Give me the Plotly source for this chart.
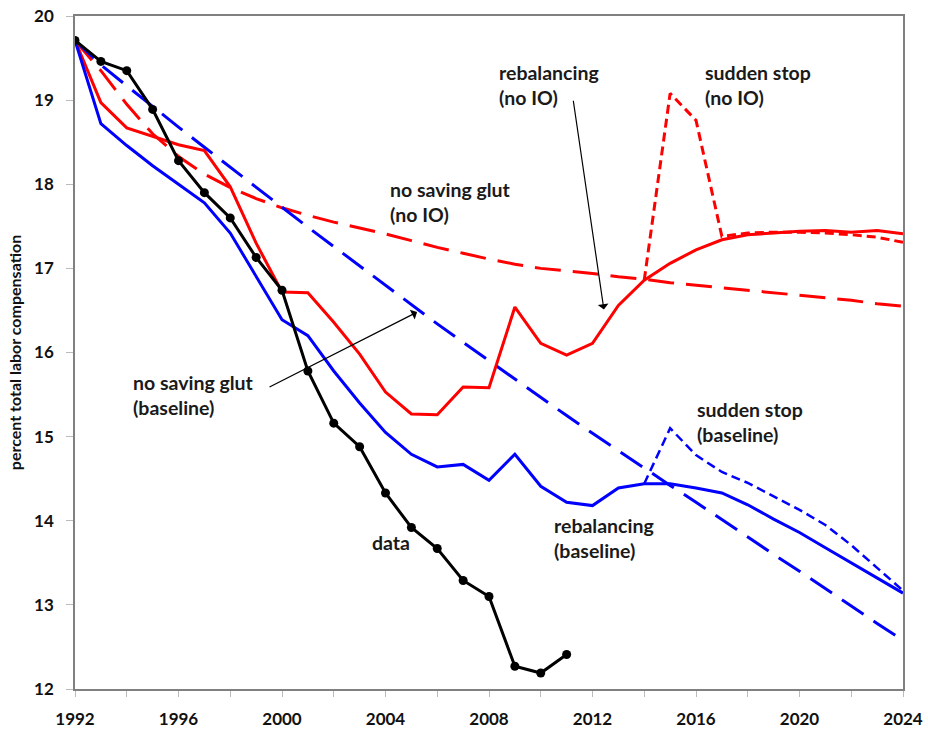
import plotly.graph_objects as go

years = list(range(1992, 2025))
data_years = list(range(1992, 2012))
stop_years = list(range(2014, 2025))

# measured data (black)
data_share = [19.71, 19.46, 19.35, 18.89, 18.28, 17.90, 17.60, 17.13, 16.74, 15.78,
              15.16, 14.88, 14.33, 13.92, 13.67, 13.29, 13.10, 12.27, 12.19, 12.41]

# rebalancing (baseline), blue solid
rebal_base = [19.71, 18.72, 18.46, 18.22, 18.00, 17.78, 17.42, 16.90, 16.39, 16.20,
              15.78, 15.40, 15.05, 14.79, 14.64, 14.67, 14.48, 14.79, 14.41, 14.22,
              14.18, 14.39, 14.44, 14.44, 14.39, 14.33, 14.19, 14.02, 13.86, 13.68,
              13.50, 13.33, 13.14]

# no saving glut (baseline), blue long dash
glut_base = [19.71, 19.42, 19.17, 18.92, 18.68, 18.44, 18.20, 17.96, 17.72, 17.49,
             17.26, 17.03, 16.80, 16.56, 16.34, 16.12, 15.90, 15.68, 15.46, 15.25,
             15.04, 14.83, 14.63, 14.42, 14.22, 14.01, 13.81, 13.60, 13.40, 13.19,
             12.99, 12.78, 12.58]

# sudden stop (baseline), blue short dash, 2014-2024
stop_base = [14.44, 15.10, 14.78, 14.58, 14.45, 14.29, 14.13, 13.95, 13.71, 13.44, 13.17]

# rebalancing (no IO), red solid
rebal_noio = [19.71, 18.97, 18.67, 18.57, 18.47, 18.40, 17.97, 17.30, 16.72, 16.71,
              16.36, 15.98, 15.53, 15.27, 15.26, 15.59, 15.58, 16.54, 16.11, 15.97,
              16.11, 16.56, 16.86, 17.06, 17.22, 17.34, 17.40, 17.42, 17.44, 17.45,
              17.43, 17.45, 17.41]

# no saving glut (no IO), red long dash
glut_noio = [19.71, 19.35, 18.95, 18.60, 18.33, 18.12, 17.96, 17.83, 17.72, 17.63,
             17.55, 17.48, 17.41, 17.33, 17.25, 17.18, 17.11, 17.05, 17.00, 16.97,
             16.94, 16.90, 16.87, 16.83, 16.80, 16.77, 16.74, 16.71, 16.68, 16.65,
             16.62, 16.58, 16.55]

# sudden stop (no IO), red short dash, 2014-2024
stop_noio = [16.86, 19.08, 18.76, 17.38, 17.42, 17.43, 17.43, 17.42, 17.40, 17.37, 17.31]

RED = '#FF0000'
BLUE = '#0000FF'
FONT = 'Lato'
LONG = '26px,12px'
SHORT = '9px,5px'

fig = go.Figure()

fig.add_trace(go.Scatter(x=years, y=glut_noio, mode='lines',
                         line=dict(color=RED, width=3, dash=LONG)))
fig.add_trace(go.Scatter(x=years, y=glut_base, mode='lines',
                         line=dict(color=BLUE, width=3, dash=LONG)))
fig.add_trace(go.Scatter(x=stop_years, y=stop_noio, mode='lines',
                         line=dict(color=RED, width=3, dash=SHORT)))
fig.add_trace(go.Scatter(x=stop_years, y=stop_base, mode='lines',
                         line=dict(color=BLUE, width=2.5, dash=SHORT)))
fig.add_trace(go.Scatter(x=years, y=rebal_noio, mode='lines',
                         line=dict(color=RED, width=3)))
fig.add_trace(go.Scatter(x=years, y=rebal_base, mode='lines',
                         line=dict(color=BLUE, width=3)))
fig.add_trace(go.Scatter(x=data_years, y=data_share, mode='lines+markers',
                         line=dict(color='black', width=3),
                         marker=dict(color='black', size=9)))

# text labels (left aligned, vertically centred)
labels = [
    (2008.31, 19.18, 'rebalancing<br>(no IO)'),
    (2016.27, 19.18, 'sudden stop<br>(no IO)'),
    (2004.10, 17.79, 'no saving glut<br>(no IO)'),
    (1994.16, 15.49, 'no saving glut<br>(baseline)'),
    (2003.40, 13.74, 'data'),
    (2010.43, 13.80, 'rebalancing<br>(baseline)'),
    (2015.96, 15.17, 'sudden stop<br>(baseline)'),
]
for lx, ly, txt in labels:
    fig.add_annotation(x=lx, y=ly, text=txt, showarrow=False,
                       xanchor='left', yanchor='middle', align='left',
                       font=dict(family=FONT, size=19.5, color='#1a1a1a', weight='bold'))

# pointer arrows
arrows = [
    ((1999.46, 15.58), (2005.22, 16.48)),
    ((2011.25, 19.01), (2012.44, 16.51)),
]
for (tx, ty), (hx, hy) in arrows:
    fig.add_annotation(x=hx, y=hy, ax=tx, ay=ty, xref='x', yref='y',
                       axref='x', ayref='y', text='', showarrow=True,
                       arrowhead=1, arrowsize=1.5, arrowwidth=1.2,
                       arrowcolor='black')

fig.update_layout(
    width=928, height=729,
    showlegend=False,
    plot_bgcolor='white', paper_bgcolor='white',
    margin=dict(l=75, r=25, t=16, b=40),
    xaxis=dict(
        range=[1992, 2024], tickvals=list(range(1992, 2025, 4)),
        automargin=False, ticklabeloverflow='allow',
        showgrid=False, zeroline=False,
        showline=True, mirror=True, linecolor='#808080', linewidth=1.5,
        ticks='outside', ticklen=6, tickcolor='#bbbbbb', tickwidth=1,
        minor=dict(tickvals=list(range(1994, 2025, 4)), ticks='outside',
                   ticklen=6, tickcolor='#bbbbbb'),
        ticklabelstandoff=8,
        tickfont=dict(family=FONT, size=17, color='#111111', weight='bold'),
    ),
    yaxis=dict(
        range=[12, 20], dtick=1,
        automargin=False, ticklabeloverflow='allow',
        showgrid=False, zeroline=False,
        showline=True, mirror=True, linecolor='#808080', linewidth=1.5,
        ticks='outside', ticklen=7, tickcolor='#bbbbbb', tickwidth=1,
        ticklabelstandoff=9,
        tickfont=dict(family=FONT, size=17, color='#111111', weight='bold'),
        title=dict(text='percent total labor compensation', standoff=9,
                   font=dict(family=FONT, size=16, color='#111111', weight='bold')),
    ),
)

# drop the page's default body margin so the figure sits at the top-left corner
fig.write_html("out.html", config={'displayModeBar': False},
               post_script="document.body.style.margin = '0px';")
